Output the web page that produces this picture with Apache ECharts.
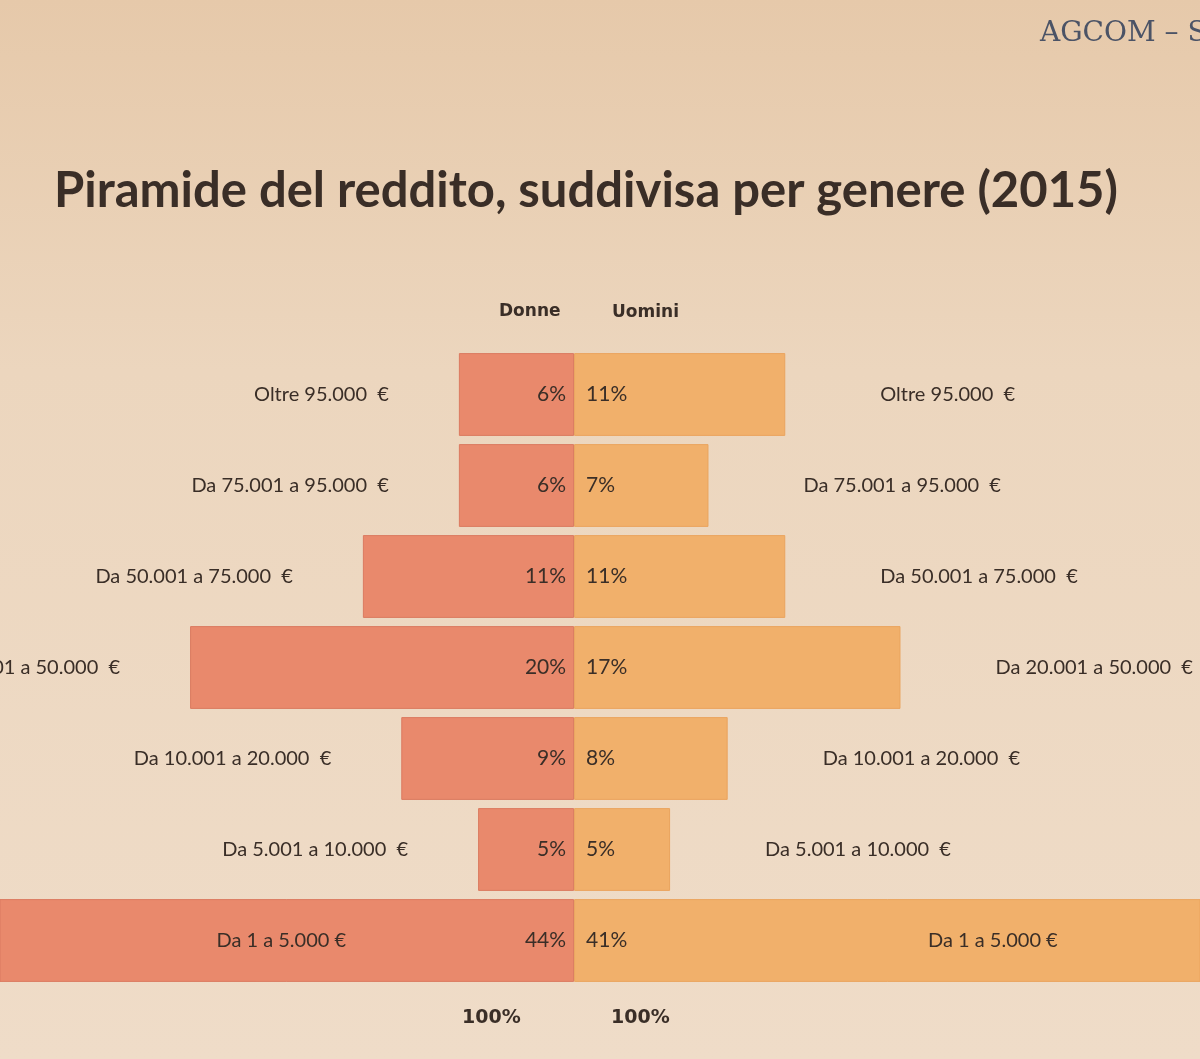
<!DOCTYPE html>
<html>
<head>
<meta charset="utf-8">
<title>Piramide del reddito</title>
<script src="https://cdn.jsdelivr.net/npm/echarts@6/dist/echarts.min.js"></script>
<style>
  html, body { margin: 0; padding: 0; }
  #chart { width: 1200px; height: 1059px; }
</style>
</head>
<body>
<div id="chart"></div>
<script>
// fasce di reddito, dall'alto verso il basso
const fasce = [
  "Oltre 95.000  €",
  "Da 75.001 a 95.000  €",
  "Da 50.001 a 75.000  €",
  "Da 20.001 a 50.000  €",
  "Da 10.001 a 20.000  €",
  "Da 5.001 a 10.000  €",
  "Da 1 a 5.000 €"
];
const donne = [6, 6, 11, 20, 9, 5, 44];
const uomini = [11, 7, 11, 17, 8, 5, 41];
const totali = ["100%", "100%"];

const textColor = "#3a2e27";
const font = "Lato, 'Open Sans', sans-serif";

const chart = echarts.init(document.getElementById("chart"));

const lastIdx = fasce.length - 1;

// etichette esterne: l'ultima fascia sta dentro la barra
const leftNames = donne.map((v, i) => {
  const item = { value: -v };
  if (i === lastIdx) {
    item.label = { position: "insideRight", distance: 228 };
  }
  return item;
});
const rightNames = uomini.map((v, i) => {
  const item = { value: v };
  if (i === lastIdx) {
    item.label = { position: "insideLeft", distance: 354 };
  }
  return item;
});

chart.setOption({
  backgroundColor: {
    type: "linear", x: 0, y: 0, x2: 0, y2: 1,
    colorStops: [
      { offset: 0, color: "#e6c9aa" },
      { offset: 0.35, color: "#ecd6be" },
      { offset: 1, color: "#efdcc8" }
    ]
  },
  animation: false,
  graphic: [
    {
      type: "text", left: 1040, top: 20,
      style: { text: "AGCOM – S", font: "28px 'DejaVu Serif', serif", fill: "#4b5366" }
    },
    {
      type: "text", left: 54, top: 167,
      style: { text: "Piramide del reddito, suddivisa per genere (2015)", font: "bold 49px " + font, fill: textColor }
    },
    {
      type: "text", left: 499, top: 303,
      style: { text: "Donne", font: "bold 17px 'DejaVu Sans', sans-serif", fill: textColor }
    },
    {
      type: "text", left: 612, top: 304,
      style: { text: "Uomini", font: "bold 17px 'DejaVu Sans', sans-serif", fill: textColor }
    },
    {
      type: "text", left: 462, top: 1009,
      style: { text: totali[0], font: "bold 19px 'DejaVu Sans', sans-serif", fill: textColor }
    },
    {
      type: "text", left: 611, top: 1009,
      style: { text: totali[1], font: "bold 19px 'DejaVu Sans', sans-serif", fill: textColor }
    }
  ],
  grid: {
    left: 0,
    right: 0,
    top: 349,
    bottom: 73
  },
  xAxis: {
    type: "value",
    min: -29.9,
    max: 32.6,
    show: false
  },
  yAxis: {
    type: "category",
    data: fasce,
    inverse: true,
    show: false
  },
  series: [
    {
      name: "Donne",
      type: "bar",
      data: donne.map(v => -v),
      barGap: "-100%",
      barCategoryGap: "9%",
      itemStyle: { color: "#e9896c", borderColor: "#db7a60", borderWidth: 1 },
      label: {
        show: true,
        position: "insideRight",
        distance: 8,
        formatter: p => Math.abs(p.value) + "%",
        color: textColor,
        fontFamily: font,
        fontSize: 21
      }
    },
    {
      name: "Uomini",
      type: "bar",
      data: uomini,
      barGap: "-100%",
      barCategoryGap: "9%",
      itemStyle: { color: "#f1b06b", borderColor: "#eaa45e", borderWidth: 1 },
      label: {
        show: true,
        position: "insideLeft",
        distance: 12,
        formatter: p => p.value + "%",
        color: textColor,
        fontFamily: font,
        fontSize: 21
      }
    },
    {
      name: "Fasce Donne",
      type: "bar",
      data: leftNames,
      barGap: "-100%",
      barCategoryGap: "9%",
      itemStyle: { color: "transparent" },
      silent: true,
      label: {
        show: true,
        position: "left",
        distance: 70,
        formatter: p => fasce[p.dataIndex],
        color: textColor,
        fontFamily: font,
        fontSize: 20
      }
    },
    {
      name: "Fasce Uomini",
      type: "bar",
      data: rightNames,
      barGap: "-100%",
      barCategoryGap: "9%",
      itemStyle: { color: "transparent" },
      silent: true,
      label: {
        show: true,
        position: "right",
        distance: 95,
        formatter: p => fasce[p.dataIndex],
        color: textColor,
        fontFamily: font,
        fontSize: 20
      }
    }
  ]
});
</script>
</body>
</html>
